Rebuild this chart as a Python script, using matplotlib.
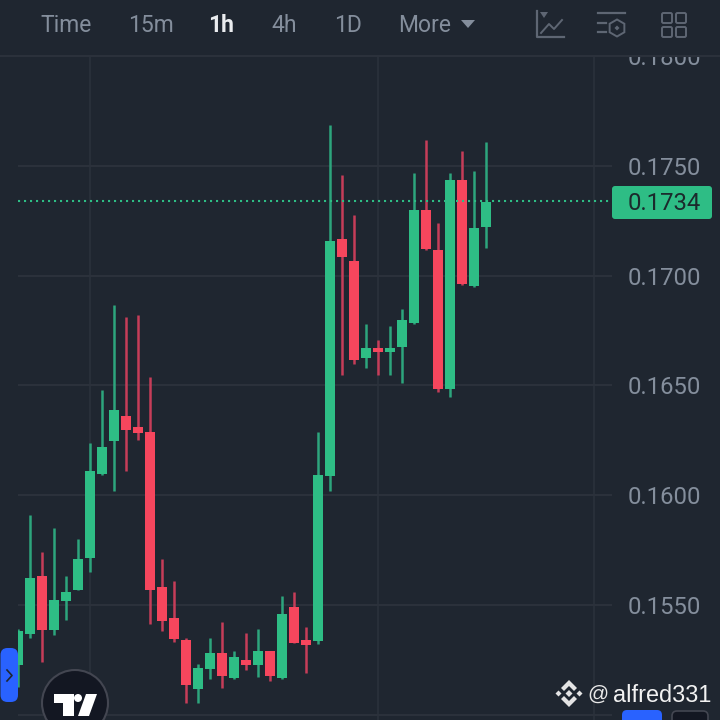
import matplotlib
matplotlib.use("Agg")
import matplotlib.pyplot as plt
from matplotlib.patches import Rectangle, FancyBboxPatch, Circle, Polygon, RegularPolygon

# --- data (prices) ---
opens = [.15226,.15367,.15631,.15385,.15517,.15567,.15713,.16096,.16247,.16360,
         .16310,.16288,.15581,.15440,.15340,.15116,.15207,.15280,.15166,.15248,
         .15226,.15289,.15166,.15490,.15340,.15335,.16087,.17167,.17067,.16625,
         .16670,.16652,.16675,.16784,.17299,.17117,.16484,.17436,.16953,.17222]
closes = [.15381,.15622,.15385,.15522,.15558,.15709,.16110,.16219,.16388,.16297,
          .16283,.15567,.15426,.15344,.15134,.15212,.15280,.15175,.15262,.15226,
          .15289,.15175,.15458,.15326,.15317,.16092,.17158,.17085,.16616,.16670,
          .16652,.16670,.16798,.17299,.17122,.16484,.17436,.16962,.17217,.17336]
highs = [.15390,.15909,.15741,.15850,.15631,.15800,.16237,.16479,.16866,.16812,
         .16821,.16538,.15709,.15608,.15349,.15230,.15349,.15422,.15289,.15371,
         .15390,.15289,.15540,.15558,.15399,.16288,.17687,.17459,.17277,.16780,
         .16707,.16771,.16848,.17468,.17619,.17240,.17468,.17568,.17477,.17609]
lows = [.15125,.15349,.15239,.15362,.15431,.15567,.15649,.16092,.16019,.16110,
        .16251,.15412,.15381,.15330,.15052,.15052,.15162,.15121,.15162,.15203,
        .15171,.15153,.15162,.15326,.15189,.15321,.16019,.16547,.16598,.16579,
        .16547,.16547,.16511,.16780,.17117,.16470,.16447,.16958,.16948,.17126]
price_ticks = [0.15, 0.155, 0.16, 0.165, 0.17, 0.175, 0.18]
price_labels = ["0.1500", "0.1550", "0.1600", "0.1650", "0.1700", "0.1750", "0.1800"]
time_grid = [6, 30, 48]
last_price = 0.1734
last_label = "0.1734"
menu_items = ["Time", "15m", "1h", "4h", "1D", "More"]

BG = "#1F2630"
GRID = "#2B313B"
UP, DOWN = "#2EBD85", "#F6465D"
UP_WICK, DOWN_WICK = "#2DA57D", "#C63D59"
MUTED = "#848E9C"
FONT = "Roboto"
W = 720

fig = plt.figure(figsize=(7.2, 7.2), dpi=100, facecolor=BG)

# chart panel: x pixels 18..612, y pixels 56..720
ax = fig.add_axes([18 / W, 0, (612 - 18) / W, (720 - 56) / W], facecolor=BG, zorder=1)
ax.set_xlim(0, 49.5)
ax.set_ylim(0.14975, 0.18001)
for s in ax.spines.values():
    s.set_visible(False)
ax.set_xticks([])
ax.set_yticks(price_ticks[1:])
ax.set_yticklabels(price_labels[1:], fontsize=17.2, color=MUTED, family=FONT)
ax.tick_params(axis="y", length=0, right=True, left=False, labelright=True, labelleft=False, pad=11.5)
for p in price_ticks:
    ax.axhline(p, color=GRID, lw=1.5, zorder=1)
for t in time_grid:
    ax.axvline(t, color=GRID, lw=1.2, zorder=1)

xs = list(range(len(opens)))
for i in xs:
    up = closes[i] >= opens[i]
    ax.vlines(i, lows[i], highs[i], color=UP_WICK if up else DOWN_WICK, lw=1.8, zorder=3)
    ax.bar(i, abs(closes[i] - opens[i]), bottom=min(opens[i], closes[i]), width=0.84,
           color=UP if up else DOWN, linewidth=0, zorder=4)

ax.axhline(last_price - 0.00002, color=UP, lw=1.5, ls=(0, (1, 1.88)), zorder=5)

# overlay in pixel coordinates for the app chrome
ov = fig.add_axes([0, 0, 1, 1], zorder=2)
ov.set_xlim(0, 720)
ov.set_ylim(720, 0)
ov.axis("off")
ov.patch.set_alpha(0)

ov.add_patch(Rectangle((0, 0), 720, 55, fc=BG, ec="none", zorder=1))
ov.plot([0, 720], [56, 56], color="#2B313B", lw=1.5, zorder=1)

menu_x = [66.5, 151, 221, 284.5, 348, 425]
for name, x in zip(menu_items, menu_x):
    active = name == "1h"
    ov.text(x, 25.7, name, ha="center", va="center", fontsize=16.5, family=FONT,
            color="#EAECEF" if active else MUTED, fontweight="bold" if active else "normal", zorder=3)
ov.add_patch(Polygon([(461, 20), (475, 20), (468, 28)], fc=MUTED, ec="none", zorder=3))

# toolbar icons
ic = "#5E6673"
ov.plot([536.5, 536.5, 564], [11, 37, 37], color=ic, lw=1.6, zorder=3)
ov.plot([541, 549, 554, 562], [33, 24, 29, 20], color=ic, lw=1.4, zorder=3)
ov.add_patch(Polygon([(540, 12), (548, 12), (544, 18)], fc=ic, ec="none", zorder=3))
ov.plot([598, 625], [13, 13], color=ic, lw=1.6, zorder=3)
ov.plot([598, 606], [23, 23], color=ic, lw=1.6, zorder=3)
ov.plot([598, 606], [32, 32], color=ic, lw=1.6, zorder=3)
ov.add_patch(RegularPolygon((617, 28), 6, radius=8.5, fc="none", ec=ic, lw=1.4, zorder=3))
ov.add_patch(RegularPolygon((617, 28), 4, radius=2.5, fc=ic, ec="none", zorder=3))
for x0, y0 in [(661, 12), (675, 12), (661, 26), (675, 26)]:
    ov.add_patch(FancyBboxPatch((x0 + 1, y0 + 1), 10, 10, boxstyle="round,pad=0,rounding_size=1.5",
                                fc="none", ec=ic, lw=1.4, zorder=3))

# last price tag
ov.add_patch(FancyBboxPatch((612, 186), 100, 33, boxstyle="round,pad=0,rounding_size=3",
                            fc=UP, ec="none", zorder=3))
ov.text(664, 203, last_label, ha="center", va="center", fontsize=17.2, family=FONT,
        color="#1B2A2C", zorder=4)

# left drawer pill
ov.add_patch(FancyBboxPatch((0.5, 648), 17.5, 54, boxstyle="round,pad=0,rounding_size=7",
                            fc="#2962FF", ec="none", zorder=3))
ov.plot([7, 12, 7], [670, 675.5, 681], color="#1F2630", lw=1.2, zorder=4)

# TradingView badge
ov.add_patch(Circle((75, 703), 33, fc="#131722", ec="#434651", lw=1.5, zorder=3))
ov.add_patch(Polygon([(54, 694), (74, 694), (74, 716), (63, 716), (63, 703), (54, 703)], fc="white", ec="none", zorder=4))
ov.add_patch(Circle((78, 698), 4, fc="white", ec="none", zorder=4))
ov.add_patch(Polygon([(86, 694), (97, 694), (89, 716), (78, 716)], fc="white", ec="none", zorder=4))

# bottom right buttons
ov.add_patch(FancyBboxPatch((622, 710), 40, 20, boxstyle="round,pad=0,rounding_size=5", fc="#2962FF", ec="none", zorder=3))
ov.add_patch(FancyBboxPatch((672, 711), 36, 20, boxstyle="round,pad=0,rounding_size=5", fc="#131722", ec="#434651", lw=1.2, zorder=3))

# Binance mark and handle
lg = "#E4E4E4"
cx, cy = 569, 693.5
ov.add_patch(Polygon([(cx, cy - 13.5), (cx + 8, cy - 5.5), (cx + 5, cy - 2.5), (cx, cy - 7.5), (cx - 5, cy - 2.5), (cx - 8, cy - 5.5)], fc=lg, ec="none", zorder=4))
ov.add_patch(Polygon([(cx, cy + 13.5), (cx + 8, cy + 5.5), (cx + 5, cy + 2.5), (cx, cy + 7.5), (cx - 5, cy + 2.5), (cx - 8, cy + 5.5)], fc=lg, ec="none", zorder=4))
ov.add_patch(RegularPolygon((cx, cy), 4, radius=3.5, fc=lg, ec="none", zorder=4))
ov.add_patch(RegularPolygon((cx - 10.5, cy), 4, radius=3, fc=lg, ec="none", zorder=4))
ov.add_patch(RegularPolygon((cx + 10.5, cy), 4, radius=3, fc=lg, ec="none", zorder=4))
ov.text(598, 694, "@", ha="center", va="center", fontsize=15, family="Liberation Sans", color="#E8E8E8", zorder=4)
ov.text(612.5, 696, "alfred331", ha="left", va="center", fontsize=16.9, family="Liberation Sans", color="#F2F2F2", zorder=4)

fig.savefig("out.png", dpi=100, facecolor=BG)
